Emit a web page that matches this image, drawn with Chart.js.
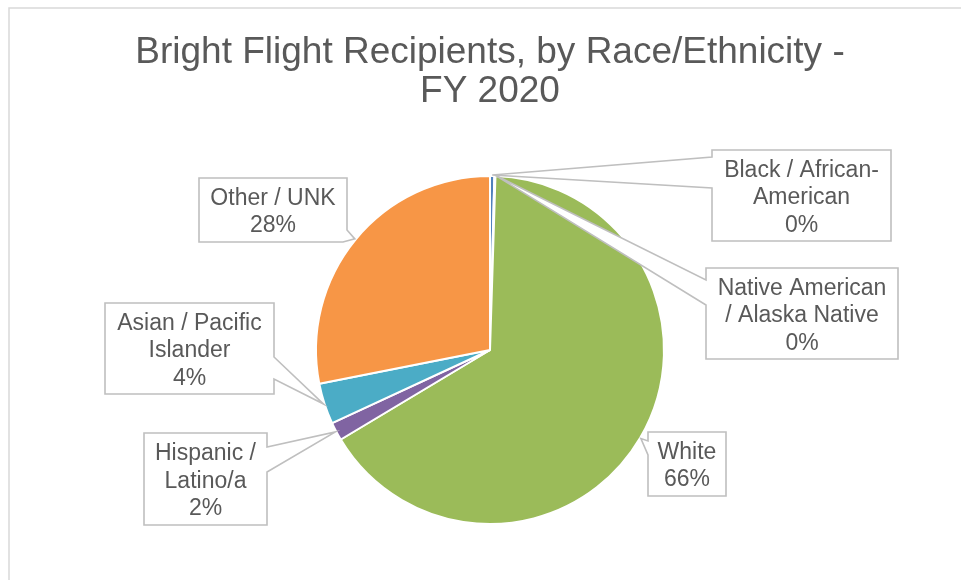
<!DOCTYPE html>
<html><head><meta charset="utf-8">
<script src="https://cdn.jsdelivr.net/npm/chart.js@4.4.1/dist/chart.umd.min.js"></script>
<style>html,body{margin:0;padding:0;background:#fff;}</style>
</head><body>
<canvas id="c" width="961" height="580"></canvas>
<script>
const categories = ['Black / African-American', 'Native American / Alaska Native', 'White', 'Hispanic / Latino/a', 'Asian / Pacific Islander', 'Other / UNK'];
const labelLines = [['Black / African-', 'American'], ['Native American', '/ Alaska Native'], ['White'], ['Hispanic /', 'Latino/a'], ['Asian / Pacific', 'Islander'], ['Other / UNK']];
const shares = [0.4, 0.1, 65.9, 1.7, 3.8, 28.1];
const colors = ['#4F81BD', '#C0504D', '#9BBB59', '#8064A2', '#4BACC6', '#F79646'];
const titleLines = ['Bright Flight Recipients, by Race/Ethnicity -', 'FY 2020'];

// callout box layout (styling only)
const calloutBoxes = [
  {x: 712, y: 150, w: 179, h: 91, side: 'left', a: 7, b: 38},
  {x: 706, y: 268, w: 192, h: 91, side: 'left', a: 12, b: 37},
  {x: 648, y: 432, w: 78, h: 64, side: 'left', a: 9, b: 23},
  {x: 144, y: 433, w: 123, h: 92, side: 'right', a: 14, b: 39},
  {x: 105, y: 303, w: 169, h: 91, side: 'right', a: 54, b: 76},
  {x: 199, y: 178, w: 148, h: 64, side: 'corner', a: 52, b: 4}
];
const FONT = '"Liberation Sans", Arial, sans-serif';
const TEXT = '#595959';

const frame = {
  id: 'frame',
  beforeDraw(chart) {
    const ctx = chart.ctx;
    ctx.save();
    ctx.fillStyle = '#fff';
    ctx.fillRect(0, 0, chart.width, chart.height);
    ctx.strokeStyle = '#d9d9d9';
    ctx.lineWidth = 1.5;
    ctx.strokeRect(9, 8, 1000, 1000);
    ctx.restore();
  }
};

const callouts = {
  id: 'callouts',
  afterDatasetsDraw(chart) {
    const ctx = chart.ctx;
    const meta = chart.getDatasetMeta(0);
    const data = chart.data.datasets[0].data;
    const total = data.reduce((s, v) => s + v, 0);
    ctx.save();
    meta.data.forEach((arc, i) => {
      const p = arc.getProps(['x', 'y', 'startAngle', 'endAngle', 'outerRadius'], true);
      const mid = (p.startAngle + p.endAngle) / 2;
      const tx = p.x + Math.cos(mid) * (p.outerRadius + 1);
      const ty = p.y + Math.sin(mid) * (p.outerRadius + 1);
      const bx = calloutBoxes[i];
      const {x, y, w, h} = bx;
      ctx.beginPath();
      ctx.moveTo(x, y);
      ctx.lineTo(x + w, y);
      if (bx.side === 'right') {
        ctx.lineTo(x + w, y + bx.a);
        ctx.lineTo(tx, ty);
        ctx.lineTo(x + w, y + bx.b);
        ctx.lineTo(x + w, y + h);
        ctx.lineTo(x, y + h);
      } else if (bx.side === 'corner') {
        ctx.lineTo(x + w, y + bx.a);
        ctx.lineTo(tx, ty);
        ctx.lineTo(x + w - bx.b, y + h);
        ctx.lineTo(x, y + h);
      } else {
        ctx.lineTo(x + w, y + h);
        ctx.lineTo(x, y + h);
        ctx.lineTo(x, y + bx.b);
        ctx.lineTo(tx, ty);
        ctx.lineTo(x, y + bx.a);
      }
      ctx.closePath();
      ctx.fillStyle = '#fff';
      ctx.fill();
      ctx.strokeStyle = '#bfbfbf';
      ctx.lineWidth = 1.6;
      ctx.lineJoin = 'miter';
      ctx.stroke();

      const lines = labelLines[i].concat([Math.round(data[i] / total * 100) + '%']);
      const lh = 27.5;
      ctx.fillStyle = TEXT;
      ctx.font = '23px ' + FONT;
      ctx.textAlign = 'center';
      ctx.textBaseline = 'alphabetic';
      const cx = x + w / 2, cy = y + h / 2;
      lines.forEach((t, k) => {
        ctx.fillText(t, cx, cy + (k - (lines.length - 1) / 2) * lh + 8.5);
      });
    });
    ctx.restore();
  }
};

new Chart(document.getElementById('c'), {
  type: 'pie',
  data: {
    labels: categories,
    datasets: [{
      data: shares,
      backgroundColor: colors,
      borderColor: '#ffffff',
      borderWidth: 2
    }]
  },
  options: {
    responsive: false,
    animation: false,
    devicePixelRatio: 1,
    radius: 174,
    layout: {padding: {left: 19, right: 0, top: 20, bottom: 0}},
    plugins: {
      legend: {display: false},
      tooltip: {enabled: false},
      title: {
        display: true,
        text: titleLines,
        color: TEXT,
        font: {family: FONT, size: 37, weight: 'normal', lineHeight: 1.054},
        padding: {top: 13, bottom: 9}
      }
    }
  },
  plugins: [frame, callouts]
});
</script>
</body></html>
